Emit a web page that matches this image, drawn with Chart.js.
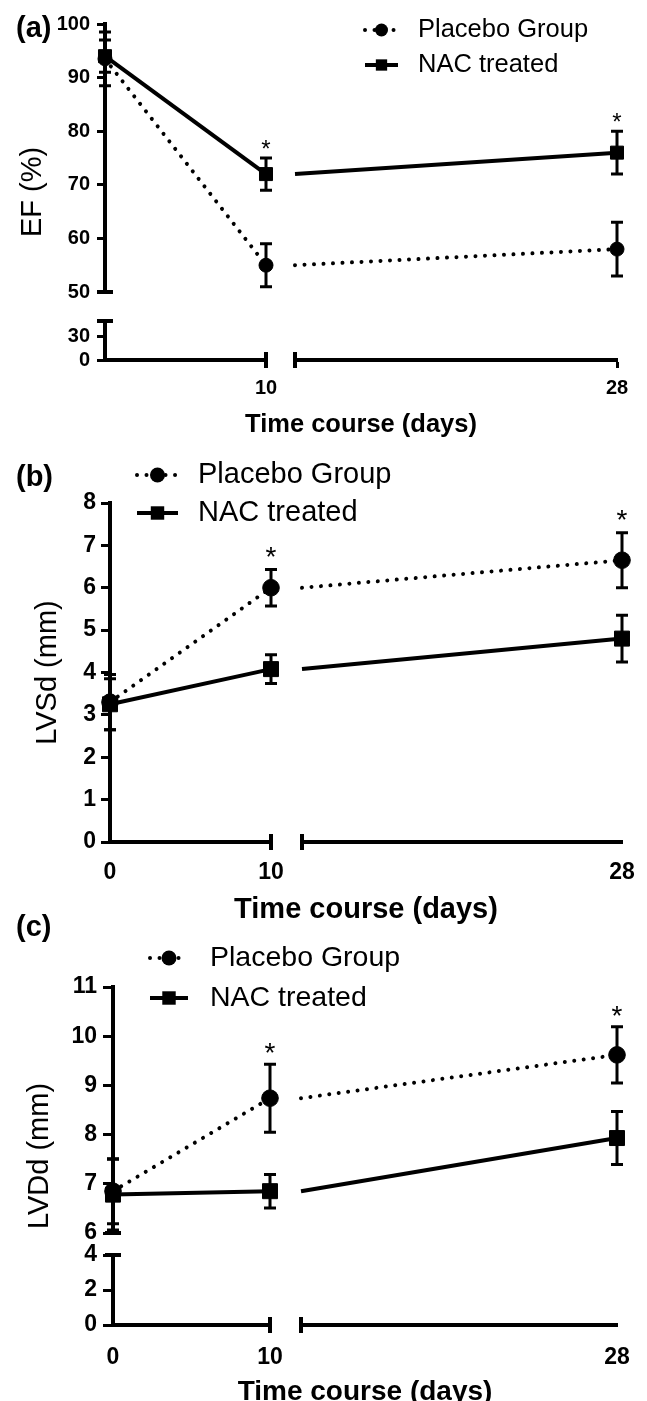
<!DOCTYPE html>
<html>
<head>
<meta charset="utf-8">
<script src="https://cdn.jsdelivr.net/npm/chart.js@4.4.1/dist/chart.umd.min.js"></script>
<style>
  html, body { margin: 0; padding: 0; background: #fff; }
  #page { position: relative; width: 647px; height: 1401px; overflow: hidden; }
  canvas { position: absolute; left: 0; }
  .tag { position: absolute; left: 16px; line-height: 1; color: #000;
         font: bold 29px "Liberation Sans", Arial, sans-serif; }
</style>
</head>
<body>
<div id="page">
  <canvas id="chartA" width="647" height="450" style="top:0"></canvas>
  <canvas id="chartB" width="647" height="482" style="top:450px"></canvas>
  <canvas id="chartC" width="647" height="481" style="top:920px"></canvas>
  <div class="tag" style="top:11px">(a)</div>
  <div class="tag" style="top:460px">(b)</div>
  <div class="tag" style="top:910px">(c)</div>
</div>
<script>
// shared
const days = [0, 10, 28];
const dayBreak = 10;
const dayMax = 28;
const seriesLabels = ["Placebo Group", "NAC treated"];
const xTitle = "Time course (days)";

// (a) EF (%)
const efPlacebo = [93.5, 55, 58];
const efPlaceboSem = [5, 4, 5];
const efNac = [94, 72, 76];
const efNacSem = [3, 3, 4];
const efStars = [10, 28];
const efUpper = [50, 100];
const efLower = [0, 50];
const efTicksUpper = [50, 60, 70, 80, 90, 100];
const efTicksLower = [0, 30];
const efDayTicks = [10, 28];

// (b) LVSd (mm)
const lvsdPlacebo = [3.3, 6.0, 6.65];
const lvsdPlaceboSem = [0.65, 0.43, 0.65];
const lvsdNac = [3.25, 4.08, 4.8];
const lvsdNacSem = [0.6, 0.34, 0.55];
const lvsdStars = [10, 28];
const lvsdRange = [0, 8];
const lvsdTicks = [0, 1, 2, 3, 4, 5, 6, 7, 8];
const lvsdDayTicks = [0, 10, 28];

// (c) LVDd (mm)
const lvddPlacebo = [6.85, 8.74, 9.62];
const lvddPlaceboSem = [0.66, 0.69, 0.57];
const lvddNac = [6.78, 6.85, 7.93];
const lvddNacSem = [0.72, 0.34, 0.54];
const lvddStars = [10, 28];
const lvddUpper = [6, 11];
const lvddLower = [0, 4];
const lvddTicksUpper = [6, 7, 8, 9, 10, 11];
const lvddTicksLower = [0, 2, 4];
const lvddDayTicks = [0, 10, 28];

const FONT = '"Liberation Sans", Arial, sans-serif';

// error bars (mean +/- sem) drawn on the dataset's own y scale
const errorBarPlugin = {
  id: "errorBars",
  afterDatasetsDraw(chart) {
    const ctx = chart.ctx;
    ctx.save();
    ctx.strokeStyle = "#000";
    ctx.lineWidth = 3;
    chart.data.datasets.forEach((ds, i) => {
      const meta = chart.getDatasetMeta(i);
      const ys = chart.scales[ds.yAxisID];
      meta.data.forEach((pt, j) => {
        const e = ds.sem[j];
        if (e == null) return;
        const v = ds.data[j].y;
        const top = ys.getPixelForValue(v + e);
        const bot = ys.getPixelForValue(v - e);
        ctx.beginPath();
        ctx.moveTo(pt.x, top);
        ctx.lineTo(pt.x, bot);
        ctx.moveTo(pt.x - 6, top);
        ctx.lineTo(pt.x + 6, top);
        ctx.moveTo(pt.x - 6, bot);
        ctx.lineTo(pt.x + 6, bot);
        ctx.stroke();
      });
    });
    ctx.restore();
  },
};

// significance stars above the highest error bar of a day
const starPlugin = {
  id: "stars",
  afterDatasetsDraw(chart, args, opts) {
    const ctx = chart.ctx;
    ctx.save();
    ctx.fillStyle = "#000";
    ctx.font = opts.size + "px " + FONT;
    ctx.textAlign = "center";
    ctx.textBaseline = "alphabetic";
    opts.days.forEach((day) => {
      let x = null;
      let top = Infinity;
      chart.data.datasets.forEach((ds, i) => {
        const meta = chart.getDatasetMeta(i);
        ds.data.forEach((d, j) => {
          if (d.x !== day || ds.sem[j] == null) return;
          const ys = chart.scales[ds.yAxisID];
          top = Math.min(top, ys.getPixelForValue(d.y + ds.sem[j]));
          x = meta.data[j].x;
        });
      });
      if (x !== null) ctx.fillText("*", x, top - opts.gap + 0.58 * opts.size);
    });
    ctx.restore();
  },
};

// end caps where the axes are broken
const breakPlugin = {
  id: "axisBreaks",
  afterDraw(chart) {
    const { ctx, scales, chartArea } = chart;
    ctx.save();
    ctx.strokeStyle = "#000";
    ctx.lineWidth = 4;
    const len = 8;
    const line = (x1, y1, x2, y2) => {
      ctx.beginPath();
      ctx.moveTo(x1, y1);
      ctx.lineTo(x2, y2);
      ctx.stroke();
    };
    if (scales.yLow) {
      const x = chartArea.left;
      line(x - len, scales.yHigh.bottom, x + len, scales.yHigh.bottom);
      line(x - len, scales.yLow.top, x + len, scales.yLow.top);
    }
    const y = chartArea.bottom;
    line(scales.xA.right, y - len, scales.xA.right, y + len);
    line(scales.xB.left, y - len, scales.xB.left, y + len);
    ctx.restore();
  },
};

// legend and axis titles
const textPlugin = {
  id: "panelText",
  afterDraw(chart, args, opts) {
    const { ctx, chartArea } = chart;
    ctx.save();
    ctx.fillStyle = "#000";
    ctx.strokeStyle = "#000";

    const lg = opts.legend;
    chart.data.datasets.filter((ds) => ds.inLegend).forEach((ds, k) => {
      const y = lg.rows[k];
      ctx.save();
      ctx.lineWidth = ds.borderWidth;
      ctx.lineCap = ds.borderCapStyle;
      ctx.setLineDash(ds.borderDash);
      ctx.beginPath();
      ctx.moveTo(lg.x1, y);
      ctx.lineTo(lg.x2, y);
      ctx.stroke();
      ctx.restore();
      Chart.helpers.drawPoint(ctx, {
        pointStyle: ds.pointStyle,
        radius: ds.pointStyle === "rect" ? lg.rectR : lg.circleR,
        rotation: 0,
        borderWidth: 0,
      }, (lg.x1 + lg.x2) / 2, y);
      ctx.font = lg.size + "px " + FONT;
      ctx.textAlign = "left";
      ctx.textBaseline = "middle";
      ctx.fillText(ds.label, lg.textX, y);
    });

    ctx.font = "bold " + opts.xTitle.size + "px " + FONT;
    ctx.textAlign = "center";
    ctx.textBaseline = "middle";
    ctx.fillText(xTitle, (chartArea.left + chartArea.right) / 2, opts.xTitle.y);

    ctx.translate(opts.yTitle.x, (chartArea.top + chartArea.bottom) / 2);
    ctx.rotate(-Math.PI / 2);
    ctx.font = opts.yTitle.size + "px " + FONT;
    ctx.fillText(opts.yTitle.text, 0, 0);
    ctx.restore();
  },
};

function fixTicks(values) {
  return (scale) => {
    scale.ticks = values.map((v) => ({ value: v }));
  };
}

function seriesDatasets(label, vals, sems, style, yId) {
  const out = [];
  [["xA", 0, dayBreak], ["xB", dayBreak, dayMax]].forEach(([xId, lo, hi], k) => {
    const data = [];
    const sem = [];
    const radius = [];
    days.forEach((d, i) => {
      if (d < lo || d > hi) return;
      const own = k === 0 || d > lo;
      data.push({ x: d, y: vals[i] });
      sem.push(own ? sems[i] : null);
      radius.push(own ? style.radius : 0);
    });
    out.push({
      label,
      data,
      sem,
      inLegend: k === 0,
      xAxisID: xId,
      yAxisID: yId,
      clip: false,
      borderColor: "#000",
      backgroundColor: "#000",
      borderWidth: style.width,
      borderDash: style.dash,
      borderCapStyle: style.cap,
      pointStyle: style.pointStyle,
      pointRadius: radius,
      pointBackgroundColor: "#000",
      pointBorderColor: "#000",
      pointBorderWidth: 1,
    });
  });
  return out;
}

function makeChart(p) {
  const tickFont = { family: FONT, size: p.tickSize, weight: "bold" };
  const border = { display: true, width: 4, color: "#000" };

  const yScale = (range, ticks, weight, order) => ({
    type: "linear",
    position: "left",
    stack: p.yWeights ? "y" : undefined,
    stackWeight: weight,
    weight: order,
    min: range[0],
    max: range[1],
    afterBuildTicks: fixTicks(ticks),
    afterFit: (s) => { s.width = p.area.left; },
    border,
    grid: { drawOnChartArea: false, tickLength: p.yTickLen, tickWidth: 3, tickColor: "#000" },
    ticks: { color: "#000", padding: p.yTickPad, autoSkip: false, font: tickFont },
  });
  const xScale = (range, ticks, weight, order) => ({
    type: "linear",
    position: "bottom",
    stack: "x",
    stackWeight: weight,
    weight: order,
    min: range[0],
    max: range[1],
    afterBuildTicks: fixTicks(ticks.filter((t) => t >= range[0] && t <= range[1] && !(order > 1 && t === range[0]))),
    afterFit: (s) => { s.height = p.height - p.area.bottom; },
    border,
    grid: {
      drawOnChartArea: false, tickLength: 8, tickWidth: 3,
      tickColor: (c) => (c.tick && p.xTickHide.includes(c.tick.value) ? "rgba(0,0,0,0)" : "#000"),
    },
    ticks: { color: "#000", padding: p.xTickPad, autoSkip: false, maxRotation: 0, font: tickFont },
  });
  const gap = (pos, weight, order) => ({
    type: "linear", position: pos, stack: pos === "left" ? "y" : "x",
    stackWeight: weight, weight: order, min: 0, max: 1, display: false,
  });

  const scales = {
    xA: xScale([0, dayBreak], p.dayTicks, p.xWeights[0], 1),
    xGap: gap("bottom", p.xWeights[1], 2),
    xB: xScale([dayBreak, dayMax], p.dayTicks, p.xWeights[2], 3),
  };
  let yId = "y";
  if (p.yWeights) {
    yId = "yHigh";
    scales.yHigh = yScale(p.upper, p.ticksUpper, p.yWeights[0], 3);
    scales.yGap = gap("left", p.yWeights[1], 2);
    scales.yLow = yScale(p.lower, p.ticksLower, p.yWeights[2], 1);
  } else {
    scales.y = yScale(p.range, p.ticks, 1, 0);
  }

  const placeboStyle = { width: 4, dash: [0.01, 9.5], cap: "round", pointStyle: "circle", radius: p.circleR };
  const nacStyle = { width: 4, dash: [], cap: "butt", pointStyle: "rect", radius: p.rectR };

  const datasets = [
    ...seriesDatasets(seriesLabels[0], p.placebo, p.placeboSem, placeboStyle, yId),
    ...seriesDatasets(seriesLabels[1], p.nac, p.nacSem, nacStyle, yId),
  ];

  return new Chart(document.getElementById(p.canvas), {
    type: "line",
    data: { datasets },
    options: {
      responsive: false,
      animation: false,
      events: [],
      layout: { padding: { left: 0, right: 647 - p.area.right, top: p.area.top, bottom: 0 } },
      plugins: {
        legend: { display: false },
        tooltip: { enabled: false },
        stars: p.stars,
        panelText: { legend: p.legend, xTitle: p.xTitle, yTitle: p.yTitle },
      },
      scales,
    },
    plugins: [errorBarPlugin, starPlugin, breakPlugin, textPlugin],
  });
}

// (a)
makeChart({
  canvas: "chartA", height: 450,
  area: { left: 105, right: 617, top: 24, bottom: 360 },
  xWeights: [161, 29, 322], yWeights: [268, 29, 39],
  upper: efUpper, lower: efLower, ticksUpper: efTicksUpper, ticksLower: efTicksLower,
  dayTicks: efDayTicks, xTickHide: [0],
  placebo: efPlacebo, placeboSem: efPlaceboSem, nac: efNac, nacSem: efNacSem,
  tickSize: 20, yTickLen: 8, yTickPad: 7, xTickPad: 8,
  circleR: 7, rectR: 9.2,
  stars: { days: efStars, size: 24, gap: 15 },
  legend: { x1: 365, x2: 398, textX: 418, rows: [30, 65], size: 25.5, circleR: 6.5, rectR: 8 },
  xTitle: { y: 425, size: 25.5 },
  yTitle: { text: "EF (%)", x: 33, size: 29 },
});

// (b)
makeChart({
  canvas: "chartB", height: 482,
  area: { left: 110, right: 622, top: 53, bottom: 392 },
  xWeights: [161, 31, 320],
  range: lvsdRange, ticks: lvsdTicks,
  dayTicks: lvsdDayTicks, xTickHide: [0, 28],
  placebo: lvsdPlacebo, placeboSem: lvsdPlaceboSem, nac: lvsdNac, nacSem: lvsdNacSem,
  tickSize: 23, yTickLen: 9, yTickPad: 5, xTickPad: 9,
  circleR: 8.3, rectR: 10.6,
  stars: { days: lvsdStars, size: 28, gap: 20 },
  legend: { x1: 137, x2: 178, textX: 198, rows: [25, 63], size: 29, circleR: 7.5, rectR: 9.5 },
  xTitle: { y: 460, size: 29 },
  yTitle: { text: "LVSd (mm)", x: 48, size: 29 },
});

// (c)
makeChart({
  canvas: "chartC", height: 481,
  area: { left: 113, right: 617, top: 67, bottom: 405 },
  xWeights: [157, 31, 316], yWeights: [246, 22, 70],
  upper: lvddUpper, lower: lvddLower, ticksUpper: lvddTicksUpper, ticksLower: lvddTicksLower,
  dayTicks: lvddDayTicks, xTickHide: [0, 28],
  placebo: lvddPlacebo, placeboSem: lvddPlaceboSem, nac: lvddNac, nacSem: lvddNacSem,
  tickSize: 23, yTickLen: 10, yTickPad: 6, xTickPad: 11,
  circleR: 8.3, rectR: 10.6,
  stars: { days: lvddStars, size: 28, gap: 18 },
  legend: { x1: 150, x2: 188, textX: 210, rows: [38, 78], size: 28.5, circleR: 7.5, rectR: 9.5 },
  xTitle: { y: 472, size: 28 },
  yTitle: { text: "LVDd (mm)", x: 40, size: 29 },
});
</script>
</body>
</html>
